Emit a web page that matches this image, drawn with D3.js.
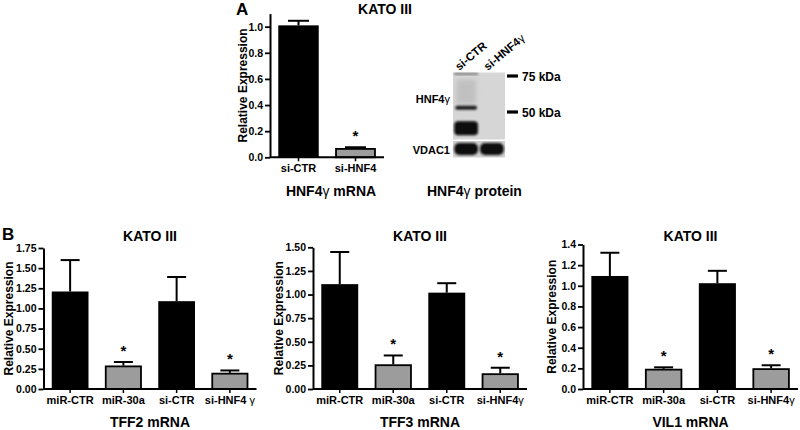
<!DOCTYPE html>
<html><head><meta charset="utf-8">
<script src="https://cdn.jsdelivr.net/npm/d3@7"></script>
<style>
body{margin:0;background:#fff}
svg{display:block}
text{font-family:"Liberation Sans",Arial,Helvetica,sans-serif;font-weight:bold;fill:#000}
</style>
</head><body><svg id="c" width="800" height="430"></svg>
<script>
// ---------- Panel A data ----------
const aCategories = ["si-CTR", "si-HNF4"];
const aValues = [1.01, 0.07];
const aErrors = [0.035, 0.007];
const aSignificant = [false, true];
const aTicks = [0, 0.2, 0.4, 0.6, 0.8, 1.0];

// ---------- Panel B data ----------
const tff2Categories = ["miR-CTR", "miR-30a", "si-CTR", "si-HNF4 γ"];
const bCategories = ["miR-CTR", "miR-30a", "si-CTR", "si-HNF4γ"];
const bSignificant = [false, true, false, true];
const tff2Values = [1.21, 0.29, 1.09, 0.20];
const tff2Errors = [0.39, 0.045, 0.30, 0.03];
const tff2Ticks = [0, 0.25, 0.5, 0.75, 1.0, 1.25, 1.5, 1.75];
const tff3Values = [1.11, 0.26, 1.02, 0.165];
const tff3Errors = [0.34, 0.095, 0.10, 0.06];
const tff3Ticks = [0, 0.25, 0.5, 0.75, 1.0, 1.25, 1.5];
const vil1Values = [1.095, 0.195, 1.025, 0.20];
const vil1Errors = [0.225, 0.015, 0.12, 0.03];
const vil1Ticks = [0, 0.2, 0.4, 0.6, 0.8, 1.0, 1.2, 1.4];

// ---------- Western blot ----------
const blotLanes = ["si-CTR", "si-HNF4γ"];
const blotMarkers = ["75 kDa", "50 kDa"];
const blotMarkerKDa = [75, 50];

const svg = d3.select("#c");
const defs = svg.append("defs");
defs.append("filter").attr("id", "blur").attr("x", "-50%").attr("y", "-50%").attr("width", "200%").attr("height", "200%")
  .append("feGaussianBlur").attr("stdDeviation", 1.3);
defs.append("filter").attr("id", "blur2").attr("x", "-50%").attr("y", "-50%").attr("width", "200%").attr("height", "200%")
  .append("feGaussianBlur").attr("stdDeviation", 2.2);

// label with gamma in regular weight
function gammaText(sel, str) {
  const parts = str.split("γ");
  sel.text(null);
  parts.forEach((p, i) => {
    if (p) sel.append("tspan").text(p);
    if (i < parts.length - 1) sel.append("tspan").attr("font-weight", "normal").text("γ");
  });
}

function barChart(o) {
  const g = svg.append("g");
  const x = d3.scaleBand().domain(o.cats).range(o.xRange).paddingInner(o.pad).paddingOuter(o.pad / 2);
  const y = d3.scaleLinear().domain([0, o.yMax]).range(o.yRange);
  const y0 = y(0);

  // bars
  g.selectAll("rect.bar").data(o.cats).join("rect")
    .attr("x", (d, i) => x(d) + (o.sig[i] ? 0.75 : 0))
    .attr("width", (d, i) => x.bandwidth() - (o.sig[i] ? 1.5 : 0))
    .attr("y", (d, i) => y(o.values[i]) + (o.sig[i] ? 0.75 : 0))
    .attr("height", (d, i) => y0 - y(o.values[i]) - (o.sig[i] ? 0.75 : 0))
    .attr("fill", (d, i) => o.sig[i] ? "#9c9c9c" : "#000")
    .attr("stroke", "#000")
    .attr("stroke-width", (d, i) => o.sig[i] ? 1.8 : 0);

  // error bars
  const cap = o.cap;
  o.cats.forEach((d, i) => {
    const cx = x(d) + x.bandwidth() / 2;
    const top = y(o.values[i] + o.errors[i]);
    g.append("line").attr("x1", cx).attr("x2", cx).attr("y1", y(o.values[i])).attr("y2", top)
      .attr("stroke", "#000").attr("stroke-width", 2);
    g.append("line").attr("x1", cx - cap / 2).attr("x2", cx + cap / 2).attr("y1", top).attr("y2", top)
      .attr("stroke", "#000").attr("stroke-width", 2);
    if (o.sig[i]) {
      g.append("text").attr("x", cx).attr("y", top - 6).attr("text-anchor", "middle")
        .attr("font-size", 15).text("*");
    }
  });

  // axes
  const yAxis = d3.axisLeft(y).tickValues(o.ticks).tickFormat(d3.format(o.fmt)).tickSize(5).tickSizeOuter(0).tickPadding(2);
  const ya = g.append("g").attr("transform", `translate(${o.xRange[0]},0)`).call(yAxis);
  ya.select(".domain").attr("stroke-width", 2);
  ya.selectAll(".tick line").attr("stroke-width", 1.8);
  ya.attr("font-family", null);
  ya.selectAll(".tick text").attr("font-size", 10.5).attr("fill", "#000");

  const xAxis = d3.axisBottom(x).tickSize(4).tickSizeOuter(0).tickPadding(3);
  const xa = g.append("g").attr("transform", `translate(0,${y0})`).call(xAxis);
  xa.select(".domain").attr("stroke-width", 2).attr("d", `M${o.xRange[0]},0H${o.xRange[1]}`);
  xa.selectAll(".tick line").attr("stroke-width", 1.5);
  xa.attr("font-family", null);
  xa.selectAll(".tick text").attr("font-size", 11).attr("fill", "#000").each(function (d) { gammaText(d3.select(this), d); });

  // y title
  const midY = (o.yRange[0] + o.yRange[1]) / 2;
  g.append("text").attr("transform", `translate(${o.yTitleX},${midY}) rotate(-90)`)
    .attr("text-anchor", "middle").attr("font-size", 12).text("Relative Expression");

  if (o.title) {
    g.append("text").attr("x", o.titleX ?? (o.xRange[0] + o.xRange[1]) / 2).attr("y", o.titleY)
      .attr("text-anchor", "middle").attr("font-size", 14).text(o.title);
  }
  const xt = g.append("text").attr("x", o.xTitleX ?? (o.xRange[0] + o.xRange[1]) / 2).attr("y", o.xTitleY)
    .attr("text-anchor", "middle").attr("font-size", 14);
  gammaText(xt, o.xTitle);
}

// ---------- Panel A ----------
svg.append("text").attr("x", 236).attr("y", 15).attr("font-size", 17).text("A");
barChart({
  cats: aCategories, values: aValues, errors: aErrors, sig: aSignificant,
  ticks: aTicks, fmt: ".1f", yMax: 1.1,
  xRange: [270, 384], yRange: [157.3, 13.6], pad: 0.29, cap: 21,
  yTitleX: 247, title: "KATO III", titleX: 385, titleY: 14,
  xTitle: "HNF4γ mRNA", xTitleX: 331, xTitleY: 196
});

// ---------- Western blot ----------
(function () {
  const g = svg.append("g");
  const lane = d3.scaleBand().domain(blotLanes).range([453, 505]).paddingInner(0.08).paddingOuter(0.05);
  const kda = d3.scaleLog().domain([75, 50]).range([76, 112]);
  const top = 72.5, mid = 139.5, bot = 157.5;
  g.append("rect").attr("x", 453).attr("y", top).attr("width", 52).attr("height", mid - top).attr("fill", "#d6d6d6");
  g.append("rect").attr("x", 453).attr("y", mid + 1.5).attr("width", 52).attr("height", bot - mid - 1.5).attr("fill", "#cfcfcf");
  const l1 = lane("si-CTR"), l2 = lane("si-HNF4γ"), bw = lane.bandwidth();
  // faint smear in control lane
  g.append("rect").attr("x", l1 + 2).attr("y", kda(72)).attr("width", bw - 4).attr("height", kda(55) - kda(72))
    .attr("fill", "#9a9a9a").attr("opacity", 0.35).attr("filter", "url(#blur2)");
  g.append("rect").attr("x", l1).attr("y", top + 0.5).attr("width", bw).attr("height", 2)
    .attr("fill", "#555").attr("opacity", 0.7).attr("filter", "url(#blur)");
  // HNF4γ bands (control lane only)
  g.append("rect").attr("x", l1 + 1).attr("y", kda(52.5) - 2).attr("width", bw - 2).attr("height", 4)
    .attr("rx", 2).attr("fill", "#1a1a1a").attr("filter", "url(#blur)");
  g.append("rect").attr("x", l1).attr("y", kda(45)).attr("width", bw).attr("height", 14)
    .attr("rx", 4).attr("fill", "#080808").attr("filter", "url(#blur)");
  // VDAC1 bands in both lanes
  [l1, l2].forEach(lx => {
    g.append("rect").attr("x", lx).attr("y", mid + 3.5).attr("width", bw).attr("height", 12)
      .attr("rx", 5).attr("fill", "#111").attr("filter", "url(#blur)");
  });
  // markers
  blotMarkers.forEach((m, i) => {
    const yy = kda(blotMarkerKDa[i]);
    g.append("line").attr("x1", 507).attr("x2", 518).attr("y1", yy).attr("y2", yy).attr("stroke", "#000").attr("stroke-width", 3.2);
    g.append("text").attr("x", 522).attr("y", yy + 4.5).attr("font-size", 12).attr("font-weight", "normal").text(m);
  });
  // lane labels
  blotLanes.forEach((l, i) => {
    const t = g.append("text").attr("transform", `translate(${lane(l) + bw / 2 - 7 + i * 3},71) rotate(-40)`).attr("font-size", 11.5);
    gammaText(t, l);
  });
  const h = g.append("text").attr("x", 450).attr("y", 103).attr("text-anchor", "end").attr("font-size", 11);
  gammaText(h, "HNF4γ");
  g.append("text").attr("x", 450).attr("y", 154).attr("text-anchor", "end").attr("font-size", 11).text("VDAC1");
  const p = g.append("text").attr("x", 427).attr("y", 196).attr("font-size", 14);
  gammaText(p, "HNF4γ protein");
})();

// ---------- Panel B ----------
svg.append("text").attr("x", 2).attr("y", 240).attr("font-size", 17).text("B");
barChart({
  cats: tff2Categories, values: tff2Values, errors: tff2Errors, sig: bSignificant,
  ticks: tff2Ticks, fmt: ".2f", yMax: 1.75,
  xRange: [43.5, 256.5], yRange: [389, 248], pad: 0.31, cap: 19,
  yTitleX: 12.5, title: "KATO III", titleY: 241, xTitle: "TFF2 mRNA", xTitleY: 427
});
barChart({
  cats: bCategories, values: tff3Values, errors: tff3Errors, sig: bSignificant,
  ticks: tff3Ticks, fmt: ".2f", yMax: 1.5,
  xRange: [313, 527], yRange: [389, 247.3], pad: 0.31, cap: 19,
  yTitleX: 282.5, title: "KATO III", titleY: 241, xTitle: "TFF3 mRNA", xTitleY: 427
});
barChart({
  cats: bCategories, values: vil1Values, errors: vil1Errors, sig: bSignificant,
  ticks: vil1Ticks, fmt: ".1f", yMax: 1.4,
  xRange: [583, 798], yRange: [389, 244.5], pad: 0.31, cap: 19,
  yTitleX: 555.5, title: "KATO III", titleY: 241, xTitle: "VIL1 mRNA", xTitleY: 427
});
</script>
</body></html>
